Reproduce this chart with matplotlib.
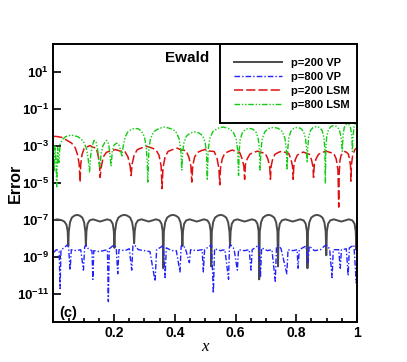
import matplotlib
matplotlib.use("Agg")
import matplotlib.pyplot as plt
import numpy as np
from matplotlib.ticker import FixedLocator, MultipleLocator, NullLocator

plt.rcParams['font.family'] = 'Liberation Sans'
plt.rcParams['font.weight'] = 'bold'
plt.rcParams['mathtext.fontset'] = 'custom'
plt.rcParams['mathtext.rm'] = 'Liberation Sans:bold'
plt.rcParams['mathtext.bf'] = 'Liberation Sans:bold'
plt.rcParams['mathtext.default'] = 'regular'

# (x, log10 error)
vp200 = [
    (0.0, -7.02), (0.012, -6.96), (0.026, -7.0), (0.036, -7.08), (0.043, -7.25), (0.047, -7.6), (0.049, -8.4),
    (0.0507, -7.62), (0.0548, -7.12), (0.0606, -6.87), (0.0693, -6.76), (0.078, -6.72), (0.0867, -6.76),
    (0.0954, -6.87), (0.1012, -7.12), (0.1053, -7.62), (0.107, -8.4),
    (0.1089, -7.6), (0.1126, -7.2), (0.1192, -7.02), (0.1305, -6.96), (0.1427, -7.02), (0.154, -7.08),
    (0.1653, -7.02), (0.1775, -6.96), (0.1888, -7.02), (0.1954, -7.2), (0.1991, -7.6), (0.201, -8.5),
    (0.203, -7.62), (0.2075, -7.12), (0.214, -6.87), (0.2238, -6.76), (0.2335, -6.72), (0.2433, -6.76),
    (0.253, -6.87), (0.2595, -7.12), (0.264, -7.62), (0.266, -8.25),
    (0.2679, -7.6), (0.2718, -7.2), (0.2785, -7.02), (0.290, -6.96), (0.3025, -7.02), (0.314, -7.08),
    (0.3255, -7.02), (0.338, -6.96), (0.3495, -7.02), (0.3562, -7.2), (0.3601, -7.6), (0.362, -9.6),
    (0.3639, -7.62), (0.3683, -7.12), (0.3746, -6.87), (0.384, -6.76), (0.3935, -6.72), (0.403, -6.76),
    (0.4124, -6.87), (0.4187, -7.12), (0.4231, -7.62), (0.425, -8.4),
    (0.4269, -7.6), (0.4307, -7.2), (0.4374, -7.02), (0.4488, -6.96), (0.4611, -7.02), (0.4725, -7.08),
    (0.4839, -7.02), (0.4963, -6.96), (0.5077, -7.02), (0.5143, -7.2), (0.5181, -7.6), (0.520, -9.5),
    (0.5219, -7.62), (0.5262, -7.12), (0.5324, -6.87), (0.5417, -6.76), (0.551, -6.72), (0.5603, -6.76),
    (0.5696, -6.87), (0.5758, -7.12), (0.5801, -7.62), (0.582, -8.4),
    (0.5839, -7.6), (0.5878, -7.2), (0.5945, -7.02), (0.606, -6.96), (0.6185, -7.02), (0.630, -7.08),
    (0.6415, -7.02), (0.654, -6.96), (0.6655, -7.02), (0.6722, -7.2), (0.6761, -7.6), (0.678, -10.2),
    (0.6799, -7.62), (0.6842, -7.12), (0.6904, -6.87), (0.6997, -6.76), (0.709, -6.72), (0.7183, -6.76),
    (0.7276, -6.87), (0.7338, -7.12), (0.7381, -7.62), (0.740, -9.5),
    (0.7419, -7.6), (0.7458, -7.2), (0.7526, -7.02), (0.7643, -6.96), (0.7769, -7.02), (0.7885, -7.08),
    (0.8001, -7.02), (0.8128, -6.96), (0.8244, -7.02), (0.8312, -7.2), (0.8351, -7.6), (0.837, -9.6),
    (0.8389, -7.62), (0.8432, -7.12), (0.8494, -6.87), (0.8587, -6.76), (0.868, -6.72), (0.8773, -6.76),
    (0.8866, -6.87), (0.8928, -7.12), (0.8971, -7.62), (0.899, -8.9),
    (0.901, -7.6), (0.905, -7.2), (0.9119, -7.02), (0.9238, -6.96), (0.9366, -7.02), (0.9485, -7.08),
    (0.9604, -7.02), (0.9733, -6.96), (0.9851, -7.02), (0.9921, -7.2), (0.996, -7.6), (0.998, -8.6),
    (1.0, -7.9),
]

vp800 = [
    (0.0, -8.75), (0.01, -8.6), (0.019, -8.65), (0.022, -10.7), (0.025, -8.6), (0.035, -8.5), (0.045, -8.35),
    (0.05, -8.45), (0.055, -9.7), (0.059, -8.6), (0.075, -8.65), (0.09, -8.6), (0.099, -9.7), (0.103, -8.45),
    (0.108, -8.35), (0.115, -8.55), (0.127, -8.65), (0.13, -10.2), (0.133, -8.65), (0.15, -8.7),
    (0.165, -8.65), (0.178, -8.6), (0.181, -11.4), (0.184, -8.55), (0.195, -8.4), (0.201, -8.35),
    (0.207, -8.5), (0.212, -9.9), (0.216, -8.6), (0.235, -8.65), (0.25, -8.55), (0.258, -9.7),
    (0.262, -8.4), (0.268, -8.35), (0.28, -8.6), (0.3, -8.65), (0.318, -8.7), (0.335, -10.3), (0.34, -8.6),
    (0.355, -8.45), (0.362, -8.35), (0.368, -10.1), (0.372, -8.5), (0.39, -8.65), (0.405, -8.65),
    (0.417, -9.8), (0.421, -8.4), (0.427, -8.35), (0.435, -8.55), (0.448, -9.3), (0.452, -8.6),
    (0.47, -8.65), (0.49, -8.6), (0.494, -9.8), (0.498, -8.6), (0.515, -8.4), (0.521, -8.35),
    (0.527, -10.95), (0.531, -8.55), (0.55, -8.65), (0.565, -8.6), (0.577, -10.2), (0.58, -8.4),
    (0.585, -8.35), (0.595, -8.55), (0.606, -9.7), (0.61, -8.6), (0.63, -8.65), (0.645, -8.6),
    (0.651, -9.7), (0.655, -8.6), (0.672, -8.4), (0.678, -8.35), (0.682, -10.1), (0.686, -8.5),
    (0.705, -8.65), (0.72, -8.6), (0.731, -10.3), (0.735, -8.45), (0.741, -8.35), (0.75, -8.55),
    (0.769, -9.9), (0.773, -8.6), (0.79, -8.65), (0.803, -8.6), (0.806, -9.6), (0.81, -8.6),
    (0.832, -8.4), (0.839, -9.3), (0.843, -8.4), (0.86, -8.65), (0.88, -8.6), (0.893, -8.4),
    (0.9, -8.35), (0.91, -8.55), (0.918, -10.1), (0.922, -8.6), (0.94, -8.6), (0.945, -9.6),
    (0.949, -8.6), (0.965, -8.55), (0.971, -10.0), (0.975, -8.5), (0.99, -8.35), (0.998, -10.4),
    (1.0, -8.6),
]

lsm200 = [
    (0.0, -2.48), (0.015, -2.5), (0.03, -2.55), (0.045, -2.7), (0.06, -2.85), (0.072, -3.1), (0.08, -3.5),
    (0.085, -4.0), (0.088, -4.95),
    (0.090, -4.0), (0.0946, -3.45), (0.1012, -3.15), (0.1111, -3.05), (0.121, -2.98), (0.1309, -3.08),
    (0.1408, -3.1), (0.1474, -3.5), (0.152, -4.0), (0.154, -4.7),
    (0.157, -4.2), (0.164, -3.6), (0.1744, -3.35), (0.1897, -3.25), (0.205, -3.2), (0.2203, -3.28),
    (0.2356, -3.3), (0.2458, -3.6), (0.253, -4.1), (0.256, -4.6),
    (0.259, -4.0), (0.266, -3.5), (0.2764, -3.2), (0.2917, -3.1), (0.307, -3.02), (0.3223, -3.1),
    (0.3376, -3.2), (0.3478, -3.5), (0.355, -4.1), (0.358, -5.3),
    (0.361, -4.2), (0.3678, -3.6), (0.3776, -3.3), (0.3923, -3.2), (0.407, -3.12), (0.4217, -3.22),
    (0.4364, -3.25), (0.4462, -3.6), (0.453, -4.1), (0.456, -4.95),
    (0.4588, -4.1), (0.4652, -3.6), (0.4744, -3.35), (0.4882, -3.25), (0.502, -3.18), (0.5158, -3.28),
    (0.5296, -3.3), (0.5388, -3.65), (0.5452, -4.2), (0.548, -5.1),
    (0.5505, -4.2), (0.5562, -3.7), (0.5644, -3.4), (0.5767, -3.3), (0.589, -3.22), (0.6013, -3.3),
    (0.6136, -3.35), (0.6218, -3.7), (0.6275, -4.1), (0.630, -4.8),
    (0.6325, -4.0), (0.6385, -3.7), (0.647, -3.45), (0.6598, -3.35), (0.6725, -3.28), (0.6853, -3.35),
    (0.698, -3.4), (0.7065, -3.7), (0.7125, -4.1), (0.715, -4.8),
    (0.7172, -4.1), (0.7225, -3.7), (0.73, -3.45), (0.7413, -3.35), (0.7525, -3.28), (0.7638, -3.35),
    (0.775, -3.4), (0.7825, -3.7), (0.7878, -4.1), (0.79, -4.8),
    (0.792, -4.1), (0.7967, -3.75), (0.8034, -3.5), (0.8135, -3.4), (0.8235, -3.33), (0.8336, -3.4),
    (0.8436, -3.45), (0.8503, -3.75), (0.855, -4.1), (0.857, -4.7),
    (0.8595, -4.0), (0.8653, -3.7), (0.8736, -3.45), (0.886, -3.35), (0.8985, -3.28), (0.911, -3.35),
    (0.9234, -3.4), (0.9317, -3.7), (0.9375, -4.3), (0.94, -6.3),
    (0.9415, -4.5), (0.944, -3.8), (0.948, -3.5), (0.954, -3.38), (0.96, -3.3), (0.966, -3.35),
    (0.972, -3.45), (0.976, -3.75), (0.979, -4.1), (0.98, -4.9),
    (0.982, -4.0), (0.986, -3.5), (0.993, -3.2), (1.0, -3.1),
]

lsm800 = [
    (0.0, -3.3), (0.003, -4.4), (0.005, -3.0), (0.008, -3.6), (0.011, -5.2), (0.014, -3.1), (0.018, -3.9),
    (0.022, -2.9), (0.03, -2.65), (0.04, -2.5), (0.05, -2.45), (0.06, -2.42), (0.07, -2.45), (0.08, -2.5),
    (0.09, -2.6), (0.1, -2.8), (0.108, -3.1), (0.114, -3.6), (0.119, -4.4), (0.123, -3.5), (0.128, -3.0),
    (0.134, -2.7), (0.14, -2.75), (0.145, -3.1), (0.149, -3.7), (0.153, -4.2), (0.157, -3.4), (0.163, -3.0),
    (0.17, -2.8), (0.176, -2.7), (0.182, -2.9), (0.186, -3.4), (0.19, -4.1), (0.194, -3.3), (0.2, -2.95),
    (0.208, -2.85), (0.215, -2.9), (0.221, -3.2), (0.226, -3.6), (0.23, -3.0), (0.237, -2.5), (0.245, -2.25),
    (0.255, -2.12), (0.268, -2.05), (0.28, -2.08), (0.29, -2.2), (0.3, -2.5), (0.306, -3.1), (0.309, -3.8),
    (0.311, -4.95),
    (0.3144, -3.2), (0.32, -2.6), (0.3312, -2.22), (0.349, -2.05), (0.367, -1.98), (0.3848, -2.06),
    (0.4026, -2.2), (0.414, -2.6), (0.4196, -3.2), (0.423, -4.3),
    (0.4255, -3.4), (0.4297, -2.85), (0.4381, -2.48), (0.4507, -2.3), (0.465, -2.25), (0.4793, -2.3),
    (0.4919, -2.45), (0.5003, -2.85), (0.5045, -3.4), (0.507, -4.85),
    (0.5101, -3.2), (0.5152, -2.6), (0.5255, -2.22), (0.541, -2.05), (0.5585, -1.98), (0.576, -2.05),
    (0.5915, -2.22), (0.6018, -2.6), (0.6069, -3.2), (0.61, -4.6),
    (0.6121, -3.25), (0.6157, -2.65), (0.6228, -2.27), (0.6334, -2.1), (0.6455, -2.05), (0.6576, -2.1),
    (0.6682, -2.27), (0.6753, -2.65), (0.6789, -3.25), (0.681, -4.3),
    (0.6837, -3.2), (0.6881, -2.6), (0.697, -2.22), (0.7104, -2.05), (0.7255, -2.0), (0.7406, -2.05),
    (0.754, -2.22), (0.7629, -2.6), (0.7673, -3.2), (0.77, -4.3),
    (0.772, -3.2), (0.7753, -2.6), (0.7819, -2.22), (0.7918, -2.05), (0.803, -2.0), (0.8142, -2.05),
    (0.8241, -2.22), (0.8307, -2.6), (0.834, -3.2), (0.836, -3.9),
    (0.8378, -3.15), (0.8408, -2.55), (0.8468, -2.17), (0.8558, -2.0), (0.866, -1.95), (0.8762, -2.0),
    (0.8852, -2.17), (0.8912, -2.55), (0.8942, -3.15), (0.896, -5.0),
    (0.8977, -3.1), (0.9005, -2.5), (0.9061, -2.12), (0.9145, -1.95), (0.924, -1.9), (0.9335, -1.95),
    (0.9419, -2.12), (0.9475, -2.5), (0.9503, -3.0), (0.952, -3.3),
    (0.953, -2.8), (0.9546, -2.4), (0.958, -2.02), (0.963, -1.85), (0.9685, -1.8), (0.974, -1.85),
    (0.979, -2.02), (0.9824, -2.4), (0.984, -2.8), (0.985, -3.3),
    (0.987, -2.5), (0.991, -1.95), (0.996, -1.72), (1.0, -1.65),
]

labels = ["p=200 VP", "p=800 VP", "p=200 LSM", "p=800 LSM"]
colors = ["#4a4a4a", "#2222ff", "#dd1111", "#11cc11"]
styles = ["-", (0, (4, 1.5, 1, 1.5)), (0, (6, 2)), (0, (4, 1.3, 1, 1.3, 1, 1.3))]
widths = [1.4, 1.0, 1.1, 1.0]
yticks = [1e1, 1e-1, 1e-3, 1e-5, 1e-7, 1e-9, 1e-11]
ytick_labels = ["$10^{1}$", "$10^{-1}$", "$10^{-3}$", "$10^{-5}$", "$10^{-7}$", "$10^{-9}$", "$10^{-11}$"]
xticks = [0.2, 0.4, 0.6, 0.8, 1.0]
xtick_labels = ["0.2", "0.4", "0.6", "0.8", "1"]

fig = plt.figure(figsize=(4.07, 3.62), dpi=100)
ax = fig.add_axes([0.1312, 0.1105, 0.7458, 0.768])

for pts, lab, c, ls, lw in zip([vp200, vp800, lsm200, lsm800], labels, colors, styles, widths):
    arr = np.array(pts)
    ax.plot(arr[:, 0], 10.0 ** arr[:, 1], color=c, linestyle=ls, linewidth=lw, label=lab)

ax.set_yscale("log")
ax.set_xlim(0, 1)
ax.set_ylim(10 ** -12.5, 10 ** 2.5)

ax.yaxis.set_major_locator(FixedLocator(yticks))
ax.set_yticklabels(ytick_labels)
ax.yaxis.set_minor_locator(NullLocator())
ax.xaxis.set_major_locator(FixedLocator(xticks))
ax.set_xticklabels(xtick_labels)
ax.xaxis.set_minor_locator(MultipleLocator(0.05))

ax.tick_params(which="both", direction="in", top=False, right=False, width=1.2)
ax.tick_params(axis="y", labelsize=9.5, pad=3)
ax.tick_params(axis="x", labelsize=10, pad=3)
ax.tick_params(which="major", length=6)
ax.tick_params(which="minor", length=3)
for s in ax.spines.values():
    s.set_linewidth(1.4)

ax.set_ylabel("Error", fontsize=11.5, fontweight="bold")
ax.yaxis.set_label_coords(-0.1, 0.5)
ax.set_xlabel("x", fontsize=12, fontfamily="Liberation Serif", fontstyle="italic",
              fontweight="normal", labelpad=-1)

ax.text(0.44, 0.95, "Ewald", transform=ax.transAxes, ha="center", va="center",
        fontsize=11, fontweight="bold")
ax.text(0.02, 0.034, "(c)", transform=ax.transAxes, ha="left", va="center",
        fontsize=10.5, fontweight="bold")

leg = ax.legend(loc="upper left", bbox_to_anchor=(0.549, 0.0, 0.451, 1.0), mode="expand",
                borderaxespad=0, fancybox=False, edgecolor="black", framealpha=1,
                fontsize=8, handlelength=4.3, handletextpad=0.8, labelspacing=0.35,
                borderpad=1.25)
leg.get_frame().set_linewidth(1.4)
for t in leg.get_texts():
    t.set_fontweight("bold")

fig.savefig("out.png", dpi=100)
